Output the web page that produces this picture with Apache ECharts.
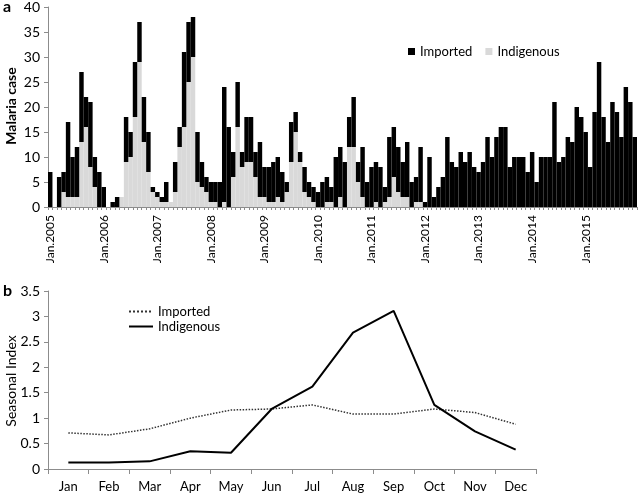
<!DOCTYPE html>
<html><head><meta charset="utf-8">
<script src="https://cdn.jsdelivr.net/npm/echarts@6/dist/echarts.min.js"></script>
<style>html,body{margin:0;padding:0;background:#fff}#c{width:638px;height:493px}</style>
</head><body><div id="c"></div>
<script>
// ---- Panel a: monthly malaria cases, Jan 2005 - Dec 2015 ----
const years = [2005, 2006, 2007, 2008, 2009, 2010, 2011, 2012, 2013, 2014, 2015];
const monthNames = ['Jan', 'Feb', 'Mar', 'Apr', 'May', 'Jun', 'Jul', 'Aug', 'Sep', 'Oct', 'Nov', 'Dec'];

const importedCases = [
  7, 0, 6, 4, 15, 8, 10, 14, 6, 13, 6, 7,        // 2005
  4, 0, 1, 2, 0, 9, 5, 11, 8, 9, 8, 1,           // 2006
  1, 1, 4, 0, 6, 4, 15, 12, 8, 10, 5, 3,         // 2007
  4, 4, 5, 23, 16, 5, 9, 3, 9, 9, 5, 11,         // 2008
  6, 7, 8, 8, 6, 2, 8, 4, 2, 5, 3, 3,            // 2009
  3, 5, 5, 3, 10, 10, 9, 6, 10, 4, 10, 5,        // 2010
  8, 8, 8, 3, 12, 10, 9, 7, 11, 5, 5, 11,        // 2011
  1, 10, 2, 4, 6, 14, 9, 8, 11, 9, 11, 8,        // 2012
  7, 9, 14, 10, 14, 16, 16, 8, 10, 10, 10, 7,    // 2013
  11, 5, 10, 10, 10, 21, 9, 10, 14, 13, 20, 18,  // 2014
  15, 8, 19, 29, 18, 13, 21, 19, 14, 24, 21, 14  // 2015
];
const indigenousCases = [
  0, 0, 0, 3, 2, 2, 2, 13, 16, 8, 4, 0,          // 2005
  0, 0, 0, 0, 2, 9, 10, 18, 29, 13, 7, 3,        // 2006
  2, 1, 1, 1, 3, 12, 16, 25, 30, 5, 4, 3,        // 2007
  1, 1, 0, 1, 0, 6, 16, 8, 9, 9, 6, 2,           // 2008
  2, 1, 1, 2, 1, 3, 9, 15, 9, 3, 2, 1,           // 2009
  0, 0, 1, 1, 0, 2, 0, 12, 12, 5, 2, 0,          // 2010
  0, 1, 0, 1, 2, 6, 3, 2, 2, 0, 1, 1,            // 2011
  0, 0, 0, 0, 0, 0, 0, 0, 0, 0, 0, 0,            // 2012
  0, 0, 0, 0, 0, 0, 0, 0, 0, 0, 0, 0,            // 2013
  0, 0, 0, 0, 0, 0, 0, 0, 0, 0, 0, 0,            // 2014
  0, 0, 0, 0, 0, 0, 0, 0, 0, 0, 0, 0             // 2015
];
const caseTicks = { min: 0, max: 40, interval: 5 };

// ---- Panel b: seasonal index ----
const seasonMonths = ['Jan', 'Feb', 'Mar', 'Apr', 'May', 'Jun', 'Jul', 'Aug', 'Sep', 'Oct', 'Nov', 'Dec'];
const importedIndex = [0.71, 0.67, 0.79, 1.00, 1.16, 1.18, 1.26, 1.08, 1.08, 1.18, 1.11, 0.88];
const indigenousIndex = [0.13, 0.13, 0.15, 0.35, 0.32, 1.18, 1.62, 2.68, 3.11, 1.26, 0.74, 0.38];
const indexTicks = { min: 0, max: 3.5, interval: 0.5 };

const monthCategories = [];
years.forEach(y => monthNames.forEach(m => monthCategories.push(m + '.' + y)));

const FONT = 'Lato';
const AXIS_GRAY = '#8c8c8c';
const lineLegendLabel = { 'Imported index': 'Imported', 'Indigenous index': 'Indigenous' };

const chart = echarts.init(document.getElementById('c'), null, { renderer: 'canvas' });
chart.setOption({
  animation: false,
  backgroundColor: '#fff',
  textStyle: { fontFamily: FONT, color: '#000' },
  graphic: [
    { type: 'text', left: 3, top: -1, style: { text: 'a', font: 'bold 16px ' + FONT, fill: '#000' } },
    { type: 'text', left: 3, top: 283, style: { text: 'b', font: 'bold 16px ' + FONT, fill: '#000' } },
    { type: 'text', x: 11, y: 106, rotation: Math.PI / 2,
      style: { text: 'Malaria case', font: 'bold 14px ' + FONT, fill: '#000', align: 'center', verticalAlign: 'middle' } },
    { type: 'text', x: 11, y: 381, rotation: Math.PI / 2,
      style: { text: 'Seasonal Index', font: '14px ' + FONT, fill: '#000', align: 'center', verticalAlign: 'middle' } }
  ],
  grid: [
    { left: 48, top: 6, width: 589, height: 201 },
    { left: 48, top: 291, width: 488, height: 178 }
  ],
  legend: [
    {
      data: ['Imported', 'Indigenous'],
      left: 403, top: 40, icon: 'rect', itemWidth: 7, itemHeight: 7, itemGap: 13,
      textStyle: { fontFamily: FONT, fontSize: 13, color: '#000' }
    },
    {
      data: ['Imported index', 'Indigenous index'],
      formatter: n => lineLegendLabel[n],
      orient: 'vertical', left: 123, top: 300, itemWidth: 24, itemHeight: 14, itemGap: 2,
      itemStyle: { opacity: 0 },
      textStyle: { fontFamily: FONT, fontSize: 13, color: '#000' }
    }
  ],
  xAxis: [
    {
      type: 'category', gridIndex: 0, data: monthCategories, boundaryGap: true,
      axisLine: { lineStyle: { color: AXIS_GRAY } },
      axisTick: { show: true, interval: 0, length: 3, lineStyle: { color: AXIS_GRAY } },
      axisLabel: {
        interval: (i) => i % 12 === 0, rotate: 90, margin: 8,
        fontFamily: FONT, fontSize: 12, color: '#000'
      }
    },
    {
      type: 'category', gridIndex: 1, data: seasonMonths, boundaryGap: true,
      axisLine: { lineStyle: { color: AXIS_GRAY } },
      axisTick: { show: true, length: 5, lineStyle: { color: AXIS_GRAY } },
      axisLabel: { margin: 11, fontFamily: FONT, fontSize: 13, color: '#000' }
    }
  ],
  yAxis: [
    {
      type: 'value', gridIndex: 0, min: caseTicks.min, max: caseTicks.max, interval: caseTicks.interval,
      axisLine: { show: true, lineStyle: { color: AXIS_GRAY } },
      axisTick: { show: true, length: 4, lineStyle: { color: AXIS_GRAY } },
      axisLabel: { margin: 8, fontFamily: FONT, fontSize: 14, color: '#000' },
      splitLine: { show: false }
    },
    {
      type: 'value', gridIndex: 1, min: indexTicks.min, max: indexTicks.max, interval: indexTicks.interval,
      axisLine: { show: true, lineStyle: { color: AXIS_GRAY } },
      axisTick: { show: true, length: 4, lineStyle: { color: AXIS_GRAY } },
      axisLabel: { margin: 8, fontFamily: FONT, fontSize: 14, color: '#000' },
      splitLine: { show: false }
    }
  ],
  series: [
    {
      name: 'Indigenous', type: 'bar', stack: 'cases', xAxisIndex: 0, yAxisIndex: 0,
      data: indigenousCases, barCategoryGap: '0%', itemStyle: { color: '#d9d9d9' }
    },
    {
      name: 'Imported', type: 'bar', stack: 'cases', xAxisIndex: 0, yAxisIndex: 0,
      data: importedCases, barCategoryGap: '0%', itemStyle: { color: '#000000' }
    },
    {
      name: 'Imported index', type: 'line', xAxisIndex: 1, yAxisIndex: 1, data: importedIndex,
      symbol: 'none', lineStyle: { color: '#333', width: 1.5, type: 'dotted' }, itemStyle: { color: '#333' }
    },
    {
      name: 'Indigenous index', type: 'line', xAxisIndex: 1, yAxisIndex: 1, data: indigenousIndex,
      symbol: 'none', lineStyle: { color: '#000', width: 2, type: 'solid' }, itemStyle: { color: '#000' }
    }
  ]
});
</script>
</body></html>
